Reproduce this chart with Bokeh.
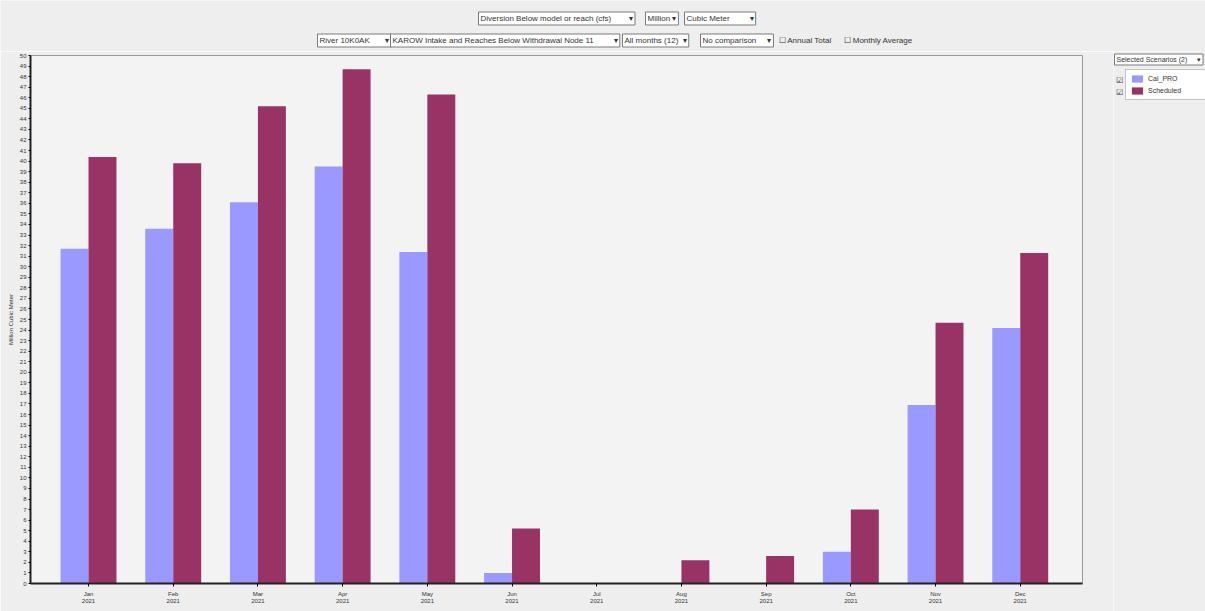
from bokeh.plotting import figure
from bokeh.layouts import column, row
from bokeh.models import ColumnDataSource, FixedTicker, Label, Legend, LegendItem, Range1d
from bokeh.transform import dodge
from bokeh.embed import file_html
from bokeh.resources import INLINE

# ---- data ----
months = ["Jan", "Feb", "Mar", "Apr", "May", "Jun", "Jul", "Aug", "Sep", "Oct", "Nov", "Dec"]
year = "2021"
series_names = ["Cal_PRO", "Scheduled"]
cal_pro = [31.7, 33.6, 36.1, 39.5, 31.4, 1.0, 0.0, 0.0, 0.0, 3.0, 16.9, 24.2]
scheduled = [40.4, 39.8, 45.2, 48.7, 46.3, 5.2, 0.0, 2.2, 2.6, 7.0, 24.7, 31.3]
y_ticks = list(range(0, 51))
y_title = "Million Cubic Meter"

NB = "\u00a0"
ARROW = "\u25BE"
row1_controls = ["Diversion Below model or reach (cfs)", "Million", "Cubic Meter"]
row1_pad = [8, 1, 9]
row2_controls = ["River 10K0AK", "KAROW Intake and Reaches Below Withdrawal Node 11",
                 "All months (12)", "No comparison"]
row2_pad = [7, 9, 2, 5]
row2_checks = ["\u2610 Annual Total", "\u2610 Monthly Average"]
scenario_title = "Selected Scenarios (2)"

FONT = "Liberation Sans"
BLUE = "#9999ff"
PURPLE = "#993366"
PAGE_BG = "#eeeeee"
TXT = "#333333"

W = 1205
H = 611
TOP_H = 51
MAIN_H = H - TOP_H
SIDE_W = 92
MAIN_W = W - SIDE_W

# ---- top strip with the selection controls ----
top = figure(width=W, height=TOP_H, output_backend="svg", toolbar_location=None,
             x_range=Range1d(0, W), y_range=Range1d(0, TOP_H),
             min_border=0, background_fill_color=PAGE_BG, border_fill_color=PAGE_BG,
             outline_line_color=None, frame_align=False)
top.axis.visible = False
top.grid.visible = False


def make_label(plot, text, x, y, units="data", border=True, size="8px"):
    lab = Label(x=x, y=y, x_units=units, y_units=units, text=text,
                text_font=FONT, text_font_size=size, text_color=TXT,
                text_align="left", text_baseline="middle")
    if border:
        lab.background_fill_color = "white"
        lab.border_line_color = "#7a7a7a"
        lab.padding = 2
    plot.add_layout(lab)


row1_x = [478, 645, 684]
for t, n, x in zip(row1_controls, row1_pad, row1_x):
    make_label(top, t + NB * n + ARROW, x, TOP_H - 18)
row2_x = [317, 390, 622, 700]
for t, n, x in zip(row2_controls, row2_pad, row2_x):
    make_label(top, t + NB * n + ARROW, x, TOP_H - 40)
check_x = [778, 843]
for t, x in zip(row2_checks, check_x):
    make_label(top, t, x, TOP_H - 40, border=False)

# ---- main chart ----
src = ColumnDataSource(dict(x=list(range(len(months))), a=cal_pro, b=scheduled))

p = figure(width=MAIN_W, height=MAIN_H, output_backend="svg", toolbar_location=None,
           x_range=Range1d(-0.685, 11.735), y_range=Range1d(0, 50),
           min_border_left=30, min_border_right=MAIN_W - 1082, min_border_top=4,
           min_border_bottom=28,
           background_fill_color="#f3f3f3", border_fill_color=PAGE_BG,
           outline_line_color="#9a9a9a", frame_align=False)

r1 = p.vbar(x=dodge("x", -0.165), top="a", width=0.33, source=src,
            fill_color=BLUE, line_color=None)
r2 = p.vbar(x=dodge("x", 0.165), top="b", width=0.33, source=src,
            fill_color=PURPLE, line_color=None)

p.grid.visible = False

# x axis
p.xaxis.ticker = FixedTicker(ticks=list(range(len(months))))
p.xaxis.major_label_overrides = {i: f"{m}\n{year}" for i, m in enumerate(months)}
p.xaxis.major_label_text_font = FONT
p.xaxis.major_label_text_font_size = "6px"
p.xaxis.major_label_text_color = TXT
p.xaxis.major_label_standoff = 4
p.xaxis.major_tick_out = 3
p.xaxis.major_tick_in = 0
p.xaxis.minor_tick_line_color = None
p.xaxis.axis_line_width = 2
p.xaxis.axis_line_color = "#222222"

# y axis
p.yaxis.ticker = FixedTicker(ticks=y_ticks)
p.yaxis.major_label_text_font = FONT
p.yaxis.major_label_text_font_size = "6px"
p.yaxis.major_label_text_color = TXT
p.yaxis.major_label_standoff = 2
p.yaxis.major_tick_out = 2
p.yaxis.major_tick_in = 0
p.yaxis.minor_tick_line_color = None
p.yaxis.axis_line_width = 2
p.yaxis.axis_line_color = "#222222"
p.yaxis.axis_label = y_title
p.yaxis.axis_label_text_font = FONT
p.yaxis.axis_label_text_font_size = "6px"
p.yaxis.axis_label_text_font_style = "normal"
p.yaxis.axis_label_text_color = TXT
p.yaxis.axis_label_standoff = 3

# ---- side panel holding the scenario selector and legend ----
side = figure(width=SIDE_W, height=MAIN_H, output_backend="svg", toolbar_location=None,
              x_range=Range1d(100, 101), y_range=Range1d(1000, 1001),
              min_border=0, background_fill_color=PAGE_BG, border_fill_color=PAGE_BG,
              outline_line_color=None, frame_align=False)
side.axis.visible = False
side.grid.visible = False
# legend keys drawn from the same data; hidden so only their legend swatches show
k1 = side.vbar(x=dodge("x", -0.165), top="a", width=0.33, source=src,
               fill_color=BLUE, line_color=None, visible=False)
k2 = side.vbar(x=dodge("x", 0.165), top="b", width=0.33, source=src,
               fill_color=PURPLE, line_color=None, visible=False)

make_label(side, scenario_title + NB * 5 + ARROW, 1, H - 59, units="screen", size="7px")

legend = Legend(items=[LegendItem(label=series_names[0], renderers=[k1]),
                       LegendItem(label=series_names[1], renderers=[k2])],
                location=(12, H - 100), margin=0, padding=4, spacing=3,
                glyph_width=14, glyph_height=9, label_height=9, label_width=58,
                label_standoff=4, label_text_font=FONT, label_text_font_size="7px",
                label_text_color=TXT, inactive_fill_alpha=0.0,
                border_line_color="#8a8a8a", background_fill_color="white",
                background_fill_alpha=1.0)
side.add_layout(legend)

for yy in (H - 79.5, H - 91.5):
    make_label(side, "\u2611", 2, yy, units="screen", border=False, size="8px")

layout = column(top, row(p, side, spacing=0), spacing=0)

open("out.html", "w").write(file_html(layout, INLINE))
